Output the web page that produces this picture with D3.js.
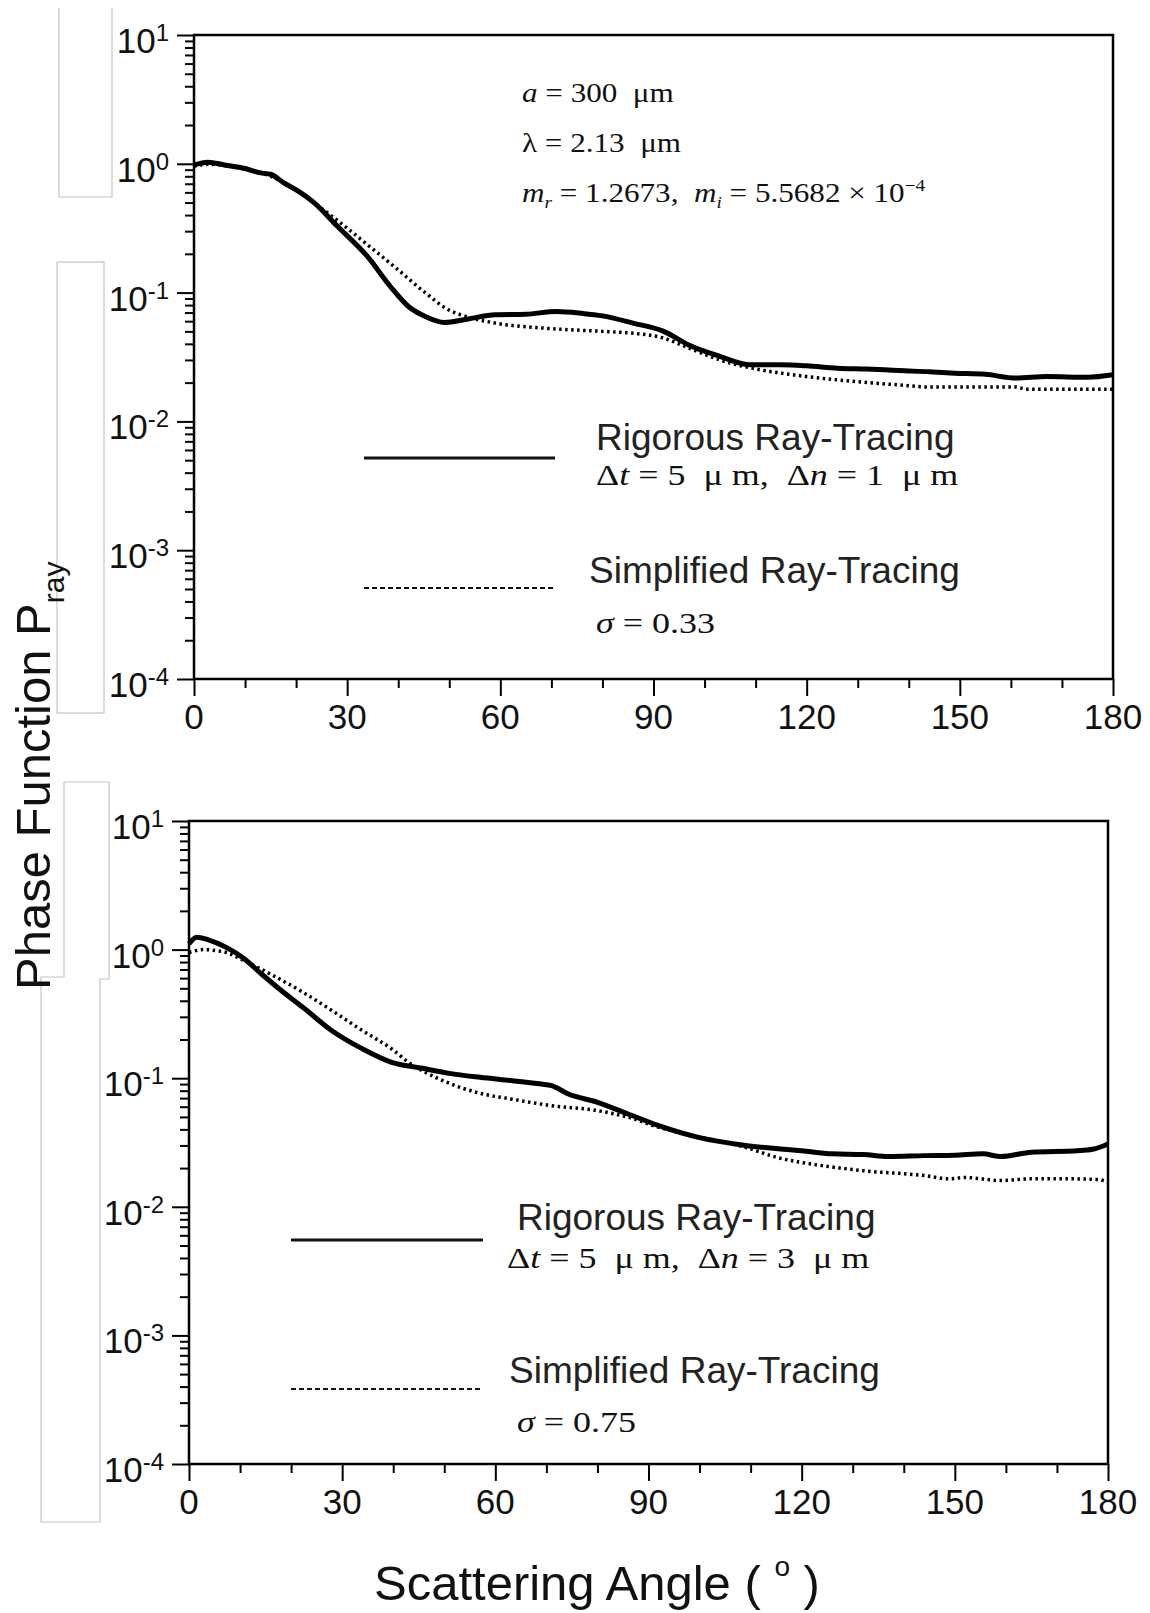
<!DOCTYPE html>
<html>
<head>
<meta charset="UTF-8" />
<title>Phase Function P_ray vs Scattering Angle</title>
<style>
  html, body { margin: 0; padding: 0; background: #fff; overflow: hidden; }
  svg { display: block; }
  text { white-space: pre; }
  .sans { font-family: "Liberation Sans", Arial, Helvetica, sans-serif; }
  .serif { font-family: "Liberation Serif", "Times New Roman", serif; }
</style>
</head>
<body>
<svg id="chart"></svg>
<script src="https://d3js.org/d3.v7.min.js"></script>
<script>
// ---- data ----
const angleTicks = [0, 30, 60, 90, 120, 150, 180];
const angleMinor = [10, 20, 40, 50, 70, 80, 100, 110, 130, 140, 160, 170];
const decadeTicks = [1e-4, 1e-3, 1e-2, 1e-1, 1e0, 1e1];
const decadeExp = ["-4", "-3", "-2", "-1", "0", "1"];

// upper panel: rigorous ray-tracing (solid)
const topRigAngle = [0, 2.7, 6, 10, 13, 15, 17.6, 20.5, 23.5, 28, 34, 38.5, 42, 45.4, 49, 53.5, 59, 65, 71, 76, 80, 86, 92, 97, 103, 109, 115, 120, 126, 132, 138, 144, 149, 155, 161, 167, 175, 180];
const topRigValue = [0.98, 1.03, 0.98, 0.92, 0.85, 0.83, 0.71, 0.61, 0.50, 0.33, 0.19, 0.111, 0.078, 0.065, 0.0586, 0.0622, 0.0673, 0.068, 0.0713, 0.069, 0.066, 0.058, 0.050, 0.039, 0.032, 0.0275, 0.0275, 0.027, 0.0259, 0.0255, 0.0248, 0.0243, 0.0237, 0.0232, 0.0217, 0.0223, 0.022, 0.023];

// upper panel: simplified ray-tracing (dotted)
const topSimAngle = [0, 3, 6, 10, 14, 18, 22, 25, 29, 34, 40, 45.4, 50, 53.5, 59, 68.5, 80, 86, 92, 97, 103, 109, 115, 126, 138, 144, 161, 163, 180];
const topSimValue = [0.96, 0.99, 0.97, 0.91, 0.83, 0.70, 0.55, 0.45, 0.34, 0.235, 0.150, 0.099, 0.073, 0.065, 0.058, 0.053, 0.050, 0.0484, 0.0443, 0.037, 0.030, 0.026, 0.0237, 0.021, 0.0192, 0.0185, 0.0185, 0.0178, 0.0178];

// lower panel: rigorous ray-tracing (solid)
const botRigAngle = [0, 1.5, 3.8, 7.3, 10.8, 14.2, 17.7, 22.3, 28, 34, 39.7, 45.4, 51, 57, 63, 69, 71, 74.3, 80, 86, 92, 100, 109, 120, 126, 132, 137, 144, 150, 155.5, 159, 165, 174, 177, 180];
const botRigValue = [1.11, 1.25, 1.19, 1.04, 0.85, 0.646, 0.494, 0.356, 0.234, 0.169, 0.133, 0.120, 0.109, 0.1016, 0.0958, 0.090, 0.0875, 0.0754, 0.065, 0.0527, 0.0428, 0.0345, 0.030, 0.0273, 0.0258, 0.0255, 0.0246, 0.025, 0.0252, 0.0258, 0.0246, 0.0266, 0.0273, 0.028, 0.0308];

// lower panel: simplified ray-tracing (dotted)
const botSimAngle = [0, 3, 5.4, 7.3, 10.8, 16.5, 22.3, 28, 34, 39.7, 43, 49, 57, 63, 71, 80, 86, 92, 100, 109, 115, 124, 132, 144, 149, 152, 159, 165, 172, 178, 180];
const botSimValue = [0.95, 1.0, 0.98, 0.95, 0.82, 0.628, 0.466, 0.336, 0.234, 0.169, 0.133, 0.0987, 0.0763, 0.069, 0.0612, 0.056, 0.0497, 0.0415, 0.0347, 0.029, 0.0243, 0.0209, 0.0191, 0.0175, 0.0165, 0.0169, 0.016, 0.0165, 0.0165, 0.0163, 0.0155];

const legendNames = ["Rigorous Ray-Tracing", "Simplified Ray-Tracing"];
const topRigNote = [{ t: "\u0394" }, { t: "t", i: true }, { t: " = 5  \u03bc m,  \u0394" }, { t: "n", i: true }, { t: " = 1  \u03bc m" }];
const botRigNote = [{ t: "\u0394" }, { t: "t", i: true }, { t: " = 5  \u03bc m,  \u0394" }, { t: "n", i: true }, { t: " = 3  \u03bc m" }];
const topSimNote = [{ t: "\u03c3", i: true }, { t: " = 0.33" }];
const botSimNote = [{ t: "\u03c3", i: true }, { t: " = 0.75" }];
const paramLines = [
  [{ t: "a", i: true }, { t: " = 300  \u03bcm" }],
  [{ t: "\u03bb" }, { t: " = 2.13  \u03bcm" }],
  [{ t: "m", i: true }, { t: "r", i: true, sub: true }, { t: " = 1.2673,  " }, { t: "m", i: true }, { t: "i", i: true, sub: true }, { t: " = 5.5682 \u00d7 10" }, { t: "\u22124", sup: true }]
];

const zip = (a, v) => a.map((d, i) => ({ a: d, v: v[i] }));

// ---- layout ----
const W = 1150, H = 1613;
const svg = d3.select("#chart").attr("width", W).attr("height", H);
svg.append("rect").attr("width", W).attr("height", H).attr("fill", "#fff");

const panels = [
  { x0: 194, x1: 1113, yTop: 35, yBot: 679, rig: zip(topRigAngle, topRigValue), sim: zip(topSimAngle, topSimValue),
    leg: { lx0: 364, lx1: 555, ly1: 458, ly2: 588, tx1: 596, tx2: 589, b1: 450, b2: 485, b3: 583, b4: 633, n1: topRigNote, n2: topSimNote } },
  { x0: 189, x1: 1108, yTop: 821, yBot: 1464, rig: zip(botRigAngle, botRigValue), sim: zip(botSimAngle, botSimValue),
    leg: { lx0: 291, lx1: 483, ly1: 1240, ly2: 1389, tx1: 517, tx2: 509, b1: 1230, b2: 1268, b3: 1383, b4: 1432, n1: botRigNote, n2: botSimNote, nx1: 507 } }
];

// light grey outline boxes that sit behind the y labels in the original
const ghost = svg.append("g").attr("fill", "none").attr("stroke", "#c4c4c4").attr("stroke-width", 1.2);
ghost.append("path").attr("d", "M59,8V197H112V8");
ghost.append("rect").attr("x", 57).attr("y", 262).attr("width", 47).attr("height", 451);
ghost.append("path").attr("d", "M64,782H109V979H100V1522H41V977H64Z");

function richText(sel, parts, fs) {
  parts.forEach(p => {
    const ts = sel.append("tspan").text(p.t);
    if (p.i) ts.attr("font-style", "italic");
    if (p.sub) ts.attr("font-size", fs * 0.62).attr("dy", fs * 0.22);
    if (p.sup) ts.attr("font-size", fs * 0.62).attr("dy", -fs * 0.4);
  });
  // undo shifts for trailing parts
  let shift = 0;
  sel.selectAll("tspan").each(function (d, i) {
    const p = parts[i];
    if (shift !== 0 && !p.sub && !p.sup) { d3.select(this).attr("dy", -shift); shift = 0; }
    if (p.sub) shift = fs * 0.22;
    if (p.sup) shift = -fs * 0.4;
  });
}

function serifNote(x, y, parts, fs, sx) {
  const t = svg.append("g").attr("transform", `translate(${x},${y}) scale(${sx},1)`)
    .append("text").attr("class", "serif").attr("font-size", fs).attr("fill", "#111");
  richText(t, parts, fs);
}

panels.forEach(p => {
  const x = d3.scaleLinear().domain([0, 180]).range([p.x0, p.x1]);
  const y = d3.scaleLog().domain([1e-4, 10]).range([p.yBot, p.yTop]);
  const g = svg.append("g");

  const minorY = [];
  decadeTicks.slice(0, -1).forEach(d => { for (let k = 2; k <= 9; k++) minorY.push(d * k); });

  const styleAxis = sel => {
    sel.select(".domain").remove();
    sel.selectAll("line").attr("stroke", "#000").attr("stroke-width", 2);
  };

  g.append("g").attr("transform", `translate(${p.x0},0)`)
    .call(d3.axisLeft(y).tickValues(decadeTicks).tickSize(17).tickFormat("")).call(styleAxis);
  g.append("g").attr("transform", `translate(${p.x0},0)`)
    .call(d3.axisLeft(y).tickValues(minorY).tickSize(9).tickFormat("")).call(styleAxis);
  g.append("g").attr("transform", `translate(0,${p.yBot})`)
    .call(d3.axisBottom(x).tickValues(angleTicks).tickSize(17).tickFormat("")).call(styleAxis);
  g.append("g").attr("transform", `translate(0,${p.yBot})`)
    .call(d3.axisBottom(x).tickValues(angleMinor).tickSize(9).tickFormat("")).call(styleAxis);

  g.append("rect").attr("x", p.x0).attr("y", p.yTop)
    .attr("width", p.x1 - p.x0).attr("height", p.yBot - p.yTop)
    .attr("fill", "none").attr("stroke", "#000").attr("stroke-width", 2.5);

  // tick labels
  g.selectAll(".xl").data(angleTicks).enter().append("text")
    .attr("class", "sans").attr("x", d => x(d)).attr("y", p.yBot + 50)
    .attr("text-anchor", "middle").attr("font-size", 35).attr("fill", "#111").text(d => d);

  decadeTicks.forEach((d, i) => {
    const t = g.append("text").attr("class", "sans").attr("x", p.x0 - 25).attr("y", y(d) + 18)
      .attr("text-anchor", "end").attr("font-size", 35).attr("fill", "#111");
    t.append("tspan").text("10");
    t.append("tspan").attr("font-size", 24).attr("dy", -12).text(decadeExp[i]);
  });

  // curves
  const line = d3.line().x(d => x(d.a)).y(d => y(d.v)).curve(d3.curveMonotoneX);
  g.append("path").datum(p.sim).attr("d", line).attr("fill", "none")
    .attr("stroke", "#000").attr("stroke-width", 3.5).attr("stroke-dasharray", "2.5,3.5");
  g.append("path").datum(p.rig).attr("d", line).attr("fill", "none")
    .attr("stroke", "#000").attr("stroke-width", 5).attr("stroke-linejoin", "round");

  // legend
  const L = p.leg;
  g.append("line").attr("x1", L.lx0).attr("x2", L.lx1).attr("y1", L.ly1).attr("y2", L.ly1)
    .attr("stroke", "#111").attr("stroke-width", 3);
  g.append("line").attr("x1", L.lx0).attr("x2", L.lx1).attr("y1", L.ly2).attr("y2", L.ly2)
    .attr("stroke", "#111").attr("stroke-width", 2).attr("stroke-dasharray", "5,3");
  g.append("text").attr("class", "sans").attr("x", L.tx1).attr("y", L.b1)
    .attr("font-size", 37).attr("fill", "#222").text(legendNames[0]);
  g.append("text").attr("class", "sans").attr("x", L.tx2).attr("y", L.b3)
    .attr("font-size", 37).attr("fill", "#222").text(legendNames[1]);
  serifNote(L.nx1 || L.tx1, L.b2, L.n1, 29.5, 1.22);
  serifNote(L.tx1, L.b4, L.n2, 29.5, 1.22);
});

// parameter block in upper panel
paramLines.forEach((parts, i) => serifNote(522, 102 + i * 50, parts, 26.6, 1.17));

// axis titles
const yl = svg.append("text").attr("class", "sans").attr("font-size", 49).attr("fill", "#111")
  .attr("transform", "translate(50,990) rotate(-90)");
yl.append("tspan").text("Phase Function P");
yl.append("tspan").attr("font-size", 30).attr("dy", 14).text("ray");

const xl = svg.append("text").attr("class", "sans").attr("font-size", 49).attr("fill", "#111")
  .attr("x", 374).attr("y", 1600);
xl.append("tspan").text("Scattering Angle ( ");
xl.append("tspan").attr("font-size", 28).attr("dy", -24).text("o");
xl.append("tspan").attr("dy", 24).text(" )");
</script>
</body>
</html>
